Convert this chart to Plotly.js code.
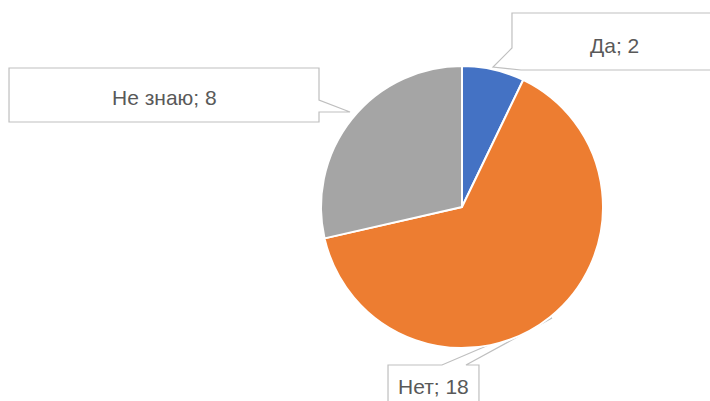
<!DOCTYPE html>
<html><head><meta charset="utf-8">
<script src="https://cdn.plot.ly/plotly-3.0.1.min.js"></script>
<style>html,body{margin:0;padding:0;background:#fff}#chart{width:710px;height:401px}</style>
</head><body><div id="chart"></div>
<script>
const labels = ["Да", "Нет", "Не знаю"];
const values = [2, 18, 8];
const colors = ["#4472C4", "#ED7D31", "#A5A5A5"];

const W = 710, H = 401;
function px(x, y) { return (x / W).toFixed(4) + "," + (1 - y / H).toFixed(4); }
function path(pts) { return "M" + pts.map(p => px(p[0], p[1])).join(" L") + " Z"; }

// callout outlines, in label order
const callouts = [
  [[512,13],[712,13],[712,70],[521,70],[493,67],[512,48]],
  [[388,365],[442,365],[552,318],[466,365],[479,365],[479,404],[388,404]],
  [[9,68],[319,68],[319,100],[350,112],[319,112],[319,122],[9,122]]
];
const textPos = [[614,45],[433,386],[164,97]];

const shapes = callouts.map(c => ({
  type: "path", xref: "paper", yref: "paper", path: path(c),
  fillcolor: "#ffffff", line: {color: "#BFBFBF", width: 1.2}, layer: "below"
}));

const annotations = labels.map((l, i) => ({
  xref: "paper", yref: "paper", x: textPos[i][0] / W, y: 1 - textPos[i][1] / H,
  text: l + "; " + values[i], showarrow: false, xanchor: "center", yanchor: "middle",
  font: {family: "Liberation Sans Narrow, Liberation Sans, Arial, sans-serif", size: 21, color: "#595959"}
}));

const data = [{
  type: "pie", labels: labels, values: values, sort: false, direction: "clockwise", rotation: 0,
  marker: {colors: colors, line: {color: "#ffffff", width: 2}},
  textinfo: "none", hoverinfo: "label+value",
  domain: {x: [(462 - 141) / W, (462 + 141) / W], y: [1 - 348 / H, 1 - 66 / H]}
}];

const layout = {
  width: W, height: H, margin: {l: 0, r: 0, t: 0, b: 0},
  paper_bgcolor: "#ffffff", showlegend: false, shapes: shapes, annotations: annotations
};
Plotly.newPlot("chart", data, layout, {displayModeBar: false, staticPlot: true});
</script></body></html>
